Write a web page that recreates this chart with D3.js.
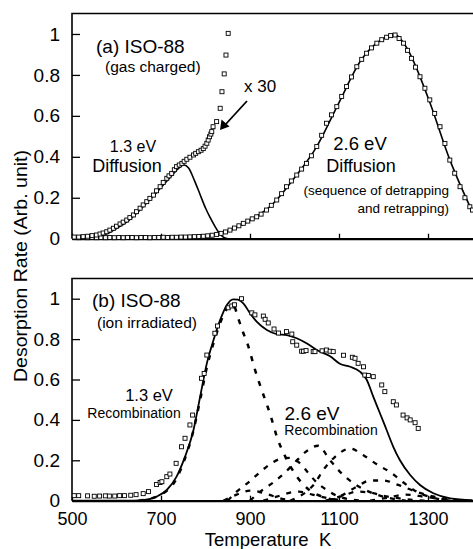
<!DOCTYPE html>
<html>
<head>
<meta charset="utf-8">
<script src="https://cdn.jsdelivr.net/npm/d3@7"></script>
<style>
  body { margin: 0; background: #fff; }
  svg { display: block; font-family: "Liberation Sans", Arial, sans-serif; }
</style>
</head>
<body>
<svg id="chart" width="473" height="549"></svg>
<script>
// ---- data: [temperature K, desorption rate] ----
const tickTemps = [500, 700, 900, 1100, 1300];
const tickRates = [0, 0.2, 0.4, 0.6, 0.8, 1];

// (a) gas charged, low-T data (x 30)
const gasLowData = [[505,0.008],[515,0.008],[525,0.01],[535,0.012],[545,0.015],[555,0.018],[563,0.023],[570,0.028],[578,0.034],[585,0.042],[593,0.051],[600,0.061],[608,0.072],[615,0.081],[623,0.091],[630,0.103],[638,0.116],[645,0.132],[653,0.149],[660,0.165],[668,0.181],[675,0.197],[683,0.213],[690,0.234],[698,0.254],[705,0.275],[713,0.295],[718,0.307],[724,0.319],[730,0.337],[735,0.352],[741,0.36],[747,0.368],[752,0.378],[758,0.388],[765,0.398],[773,0.409],[778,0.417],[784,0.425],[790,0.432],[795,0.44],[799,0.452],[803,0.466],[806,0.482],[809,0.498],[812,0.511],[814,0.523],[817,0.547],[825,0.572],[833,0.637],[837,0.718],[842,0.805],[846,0.897],[851,1.003]];
// (a) gas charged, main data
const gasHighData = [[505,0.006],[515,0.005],[525,0.006],[535,0.005],[545,0.006],[555,0.005],[565,0.006],[575,0.005],[585,0.006],[595,0.005],[605,0.006],[615,0.005],[625,0.006],[635,0.006],[645,0.005],[655,0.006],[665,0.006],[675,0.005],[685,0.006],[695,0.006],[705,0.007],[715,0.006],[725,0.007],[735,0.007],[745,0.008],[755,0.008],[765,0.009],[775,0.01],[785,0.011],[795,0.012],[805,0.014],[815,0.017],[825,0.021],[835,0.026],[845,0.033],[855,0.042],[865,0.052],[875,0.063],[885,0.075],[895,0.086],[905,0.097],[915,0.107],[925,0.12],[937,0.14],[948,0.163],[960,0.189],[971,0.22],[982,0.254],[993,0.282],[1005,0.311],[1016,0.34],[1027,0.368],[1038,0.405],[1050,0.45],[1061,0.505],[1072,0.564],[1083,0.605],[1095,0.645],[1106,0.695],[1117,0.743],[1128,0.79],[1140,0.84],[1151,0.876],[1162,0.906],[1173,0.932],[1185,0.955],[1196,0.972],[1207,0.984],[1216,0.992],[1226,0.995],[1235,0.978],[1245,0.955],[1254,0.92],[1263,0.881],[1272,0.838],[1282,0.791],[1293,0.735],[1304,0.678],[1315,0.612],[1327,0.547],[1338,0.465],[1349,0.384],[1360,0.32],[1372,0.254],[1383,0.2],[1394,0.156],[1400,0.14]];
const diff13Fit = [[540,0],[560,0.01],[580,0.025],[600,0.05],[625,0.085],[650,0.135],[675,0.19],[700,0.25],[725,0.31],[740,0.345],[752,0.36],[762,0.345],[775,0.285],[788,0.215],[800,0.15],[810,0.105],[820,0.065],[830,0.03],[840,0.008],[850,0]];
const diff26Fit = [[700,0],[750,0.003],[800,0.01],[850,0.036],[900,0.09],[950,0.167],[1000,0.298],[1050,0.45],[1100,0.665],[1150,0.874],[1200,0.978],[1225,0.998],[1250,0.94],[1300,0.69],[1350,0.38],[1400,0.13]];

// (b) ion irradiated
const ionData = [[505,0.025],[515,0.025],[535,0.024],[550,0.022],[562,0.023],[575,0.024],[584,0.023],[596,0.023],[607,0.025],[618,0.025],[632,0.027],[644,0.03],[660,0.035],[672,0.045],[690,0.08],[698,0.09],[702,0.094],[713,0.119],[720,0.132],[734,0.185],[746,0.267],[754,0.309],[765,0.375],[771,0.424],[791,0.606],[797,0.63],[803,0.721],[821,0.829],[827,0.865],[851,0.955],[859,0.964],[865,0.97],[881,1.0],[904,0.93],[911,0.92],[930,0.914],[934,0.898],[941,0.88],[954,0.85],[964,0.83],[982,0.837],[994,0.825],[996,0.787],[1005,0.77],[1016,0.74],[1020,0.74],[1026,0.743],[1042,0.738],[1046,0.738],[1062,0.742],[1072,0.746],[1080,0.74],[1087,0.738],[1110,0.72],[1130,0.71],[1136,0.705],[1143,0.68],[1155,0.663],[1158,0.622],[1166,0.62],[1177,0.614],[1196,0.573],[1203,0.54],[1222,0.49],[1229,0.474],[1244,0.424],[1253,0.41],[1260,0.4],[1271,0.386],[1278,0.358]];
const ionFit = [[500,0],[620,0],[660,0.003],[690,0.02],[713,0.053],[735,0.119],[754,0.218],[773,0.35],[788,0.515],[803,0.68],[818,0.795],[833,0.895],[848,0.969],[862,0.997],[873,0.995],[885,0.977],[900,0.928],[915,0.886],[938,0.845],[960,0.825],[983,0.82],[1005,0.804],[1027,0.779],[1050,0.746],[1080,0.715],[1102,0.678],[1125,0.663],[1147,0.639],[1162,0.6],[1177,0.515],[1192,0.433],[1207,0.35],[1222,0.267],[1237,0.2],[1260,0.127],[1282,0.078],[1312,0.037],[1350,0.012],[1400,0.003]];
const rec13 = [[650,0],[700,0.03],[735,0.11],[754,0.21],[772,0.34],[788,0.5],[803,0.66],[818,0.78],[833,0.88],[848,0.95],[862,0.97],[874,0.9],[885,0.83],[896,0.766],[904,0.705],[911,0.65],[926,0.55],[945,0.43],[963,0.3],[979,0.22],[1005,0.12],[1035,0.05],[1070,0.015],[1100,0]];
const rec26 = [
  [[850,0],[870,0.045],[896,0.09],[919,0.135],[945,0.18],[970,0.208],[990,0.212],[1010,0.19],[1030,0.14],[1050,0.09],[1075,0.05],[1100,0.02],[1150,0]],
  [[900,0],[926,0.05],[952,0.09],[979,0.14],[1001,0.19],[1027,0.245],[1053,0.272],[1080,0.2],[1106,0.135],[1132,0.087],[1162,0.05],[1200,0.02],[1250,0]],
  [[990,0],[1010,0.02],[1030,0.05],[1046,0.087],[1064,0.15],[1090,0.215],[1125,0.258],[1154,0.226],[1185,0.18],[1218,0.137],[1245,0.09],[1274,0.045],[1310,0.015],[1350,0]],
  [[1080,0],[1110,0.03],[1140,0.07],[1170,0.1],[1200,0.1],[1233,0.078],[1263,0.053],[1297,0.028],[1340,0.01],[1380,0]],
  [[840,0],[870,0.03],[900,0.05],[935,0.035],[970,0.01],[1000,0]],
  [[930,0],[960,0.02],[990,0.04],[1010,0.045],[1040,0.03],[1080,0.01],[1110,0]],
  [[1070,0],[1110,0.025],[1140,0.045],[1170,0.04],[1210,0.02],[1260,0.005],[1300,0]],
  [[1170,0],[1210,0.015],[1250,0.03],[1290,0.02],[1330,0.008],[1380,0]]
];

const svg = d3.select("#chart");
const x = d3.scaleLinear().domain([500, 1400]).range([72, 472.5]);

const panels = [
  { y: d3.scaleLinear().domain([0, 1.1]).range([238.7, 13.5]), labels: false },
  { y: d3.scaleLinear().domain([0, 1.1]).range([500.7, 278.5]), labels: true }
];

const rateFmt = d => String(+d.toFixed(1));

panels.forEach(p => {
  const [y0, y1] = p.y.range();
  // frame top + left
  svg.append("path")
    .attr("d", `M${x(1400) + 5},${y1}H${x(500)}V${y0}`)
    .attr("fill", "none").attr("stroke", "#000").attr("stroke-width", 1.6);

  const ya = svg.append("g")
    .attr("transform", `translate(${x(500)},0)`)
    .call(d3.axisLeft(p.y).tickValues(tickRates).tickSizeInner(-8).tickSizeOuter(0)
      .tickPadding(12).tickFormat(rateFmt));
  ya.select(".domain").remove();
  ya.selectAll("line").attr("stroke-width", 1.3);
  ya.selectAll("text").attr("font-size", 19).attr("fill", "#000")
    .attr("font-family", "Liberation Sans, Arial, sans-serif");

  const xa = svg.append("g")
    .attr("transform", `translate(0,${y0})`)
    .call(d3.axisBottom(x).tickValues(tickTemps).tickSizeInner(-5).tickSizeOuter(0)
      .tickPadding(12).tickFormat(p.labels ? d3.format("d") : ""));
  xa.select(".domain").attr("stroke-width", 2.2);
  xa.selectAll("line").attr("stroke-width", 1.3);
  xa.selectAll("text").attr("font-size", 18).attr("fill", "#000")
    .attr("font-family", "Liberation Sans, Arial, sans-serif");
});

svg.append("clipPath").attr("id", "plot")
  .append("rect").attr("x", 72).attr("y", 0).attr("width", 410).attr("height", 549);

function curve(g, yScale, data, dash, width) {
  return g.append("path")
    .datum(data)
    .attr("fill", "none")
    .attr("stroke", "#000")
    .attr("stroke-width", width)
    .attr("stroke-dasharray", dash)
    .attr("stroke-linejoin", "round")
    .attr("d", d3.line().x(d => x(d[0])).y(d => yScale(d[1])).curve(d3.curveMonotoneX));
}

function squares(g, yScale, data) {
  g.selectAll(null)
    .data(data)
    .join("rect")
    .attr("x", d => x(d[0]) - 2)
    .attr("y", d => yScale(d[1]) - 2)
    .attr("width", 4)
    .attr("height", 4)
    .attr("fill", "#fff")
    .attr("stroke", "#000")
    .attr("stroke-width", 0.9);
}

// ---- panel (a) ----
const ya = panels[0].y;
const ga = svg.append("g").attr("clip-path", "url(#plot)");
curve(ga, ya, diff13Fit, null, 1.6);
curve(ga, ya, diff26Fit, null, 1.6);
squares(ga, ya, gasHighData);
squares(ga, ya, gasLowData);

// ---- panel (b) ----
const yb = panels[1].y;
const gb = svg.append("g").attr("clip-path", "url(#plot)");
rec26.forEach(c => curve(gb, yb, c, "5,7", 2.3));
curve(gb, yb, rec13, "5,8", 2.5);
curve(gb, yb, ionFit, null, 1.8);
squares(gb, yb, ionData);

// ---- annotations ----
function label(px, py, str, size, anchor) {
  return svg.append("text")
    .attr("x", px).attr("y", py)
    .attr("font-size", size)
    .attr("text-anchor", anchor || "start")
    .attr("fill", "#000")
    .text(str);
}

label(96, 53, "(a) ISO-88", 19);
label(105, 72, "(gas charged)", 15.5);
label(133, 151.5, "1.3 eV", 16, "middle");
label(127, 172, "Diffusion", 18, "middle");
label(244, 92, "x 30", 17);
label(360, 150, "2.6 eV", 18.5, "middle");
label(361, 172, "Diffusion", 18, "middle");
label(449, 195, "(sequence of detrapping", 13.5, "end");
label(449, 213, "and retrapping)", 13.5, "end");

// arrow for x 30
svg.append("line")
  .attr("x1", 247).attr("y1", 101).attr("x2", 225).attr("y2", 125)
  .attr("stroke", "#000").attr("stroke-width", 1.8);
svg.append("path")
  .attr("d", "M220,130 L221.5,119.5 L229.5,126.5 Z")
  .attr("fill", "#000");

label(92, 307, "(b) ISO-88", 19);
label(97, 328, "(ion irradiated)", 15.5);
label(149, 401, "1.3 eV", 16.5, "middle");
label(134, 418, "Recombination", 14, "middle");
label(312, 420, "2.6 eV", 19, "middle");
label(331, 435, "Recombination", 14, "middle");

// axis titles
svg.append("text")
  .attr("x", 268).attr("y", 546)
  .attr("font-size", 18.5)
  .attr("text-anchor", "middle")
  .text("Temperature\u00a0\u00a0K");

svg.append("text")
  .attr("transform", "translate(27,266) rotate(-90)")
  .attr("font-size", 17.5)
  .attr("text-anchor", "middle")
  .attr("textLength", 232)
  .attr("lengthAdjust", "spacingAndGlyphs")
  .text("Desorption Rate (Arb. unit)");
</script>
</body>
</html>
